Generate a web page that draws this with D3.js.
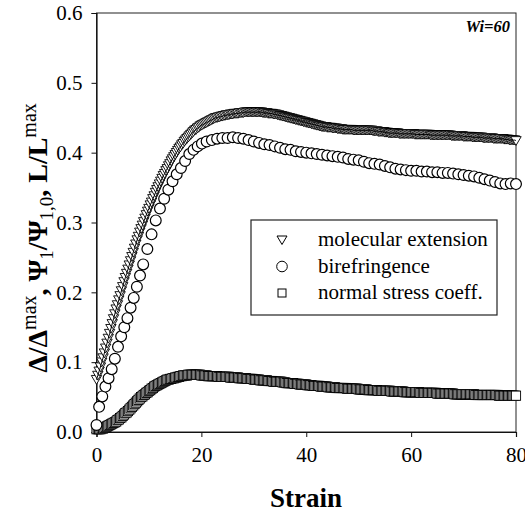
<!DOCTYPE html>
<html>
<head>
<meta charset="utf-8">
<script src="https://cdn.jsdelivr.net/npm/d3@7"></script>
<style>
  body { margin: 0; background: #fff; }
  svg { display: block; }
  svg text { font-family: "Liberation Serif", "Times New Roman", Times, "DejaVu Serif", serif; }
</style>
</head>
<body>
<svg id="chart" width="525" height="516"></svg>
<script>
// Strain sampling for the dense series (molecular extension, normal stress coeff.)
const strainGrid = d3.range(0, 80.125, 0.25);

// Molecular extension L/L^max, one value per strainGrid point (20 per row = 5 strain units)
const extensionValues = [
  0.075,0.081,0.087,0.093,0.100,0.106,0.113,0.120,0.127,0.134,0.141,0.148,0.155,0.162,0.169,0.176,0.182,0.189,0.195,0.202,
  0.208,0.215,0.221,0.227,0.233,0.239,0.245,0.251,0.257,0.263,0.269,0.275,0.280,0.286,0.291,0.296,0.301,0.306,0.311,0.316,
  0.320,0.325,0.329,0.334,0.338,0.343,0.347,0.351,0.355,0.359,0.363,0.367,0.370,0.374,0.377,0.381,0.384,0.388,0.391,0.394,
  0.397,0.400,0.403,0.406,0.408,0.411,0.413,0.416,0.418,0.420,0.422,0.424,0.426,0.428,0.430,0.432,0.433,0.435,0.436,0.438,
  0.439,0.440,0.441,0.442,0.443,0.444,0.445,0.446,0.447,0.448,0.449,0.450,0.450,0.451,0.451,0.452,0.452,0.453,0.453,0.454,
  0.454,0.454,0.455,0.455,0.455,0.456,0.456,0.456,0.456,0.457,0.457,0.457,0.457,0.458,0.458,0.458,0.458,0.458,0.458,0.458,
  0.458,0.458,0.458,0.458,0.458,0.458,0.458,0.457,0.457,0.457,0.457,0.456,0.456,0.456,0.456,0.455,0.455,0.455,0.454,0.454,
  0.453,0.453,0.452,0.452,0.451,0.451,0.450,0.450,0.449,0.449,0.448,0.448,0.447,0.447,0.446,0.446,0.445,0.445,0.444,0.444,
  0.443,0.443,0.442,0.442,0.441,0.441,0.440,0.440,0.439,0.439,0.438,0.438,0.437,0.437,0.437,0.437,0.436,0.436,0.436,0.436,
  0.435,0.435,0.435,0.435,0.434,0.434,0.434,0.434,0.433,0.433,0.433,0.433,0.433,0.433,0.433,0.433,0.432,0.432,0.432,0.432,
  0.432,0.432,0.432,0.432,0.432,0.432,0.432,0.432,0.432,0.432,0.432,0.431,0.431,0.431,0.431,0.430,0.430,0.430,0.430,0.430,
  0.429,0.429,0.429,0.428,0.428,0.428,0.428,0.428,0.428,0.428,0.428,0.427,0.427,0.427,0.427,0.427,0.427,0.427,0.427,0.427,
  0.427,0.427,0.427,0.426,0.426,0.426,0.426,0.426,0.426,0.426,0.426,0.426,0.426,0.426,0.426,0.425,0.425,0.425,0.425,0.425,
  0.425,0.425,0.425,0.425,0.425,0.425,0.425,0.425,0.425,0.425,0.425,0.424,0.424,0.424,0.424,0.424,0.424,0.424,0.424,0.424,
  0.423,0.423,0.423,0.423,0.423,0.423,0.423,0.422,0.422,0.422,0.422,0.422,0.422,0.422,0.422,0.421,0.421,0.421,0.421,0.421,
  0.421,0.421,0.421,0.420,0.420,0.420,0.420,0.420,0.420,0.420,0.420,0.419,0.419,0.419,0.419,0.418,0.418,0.418,0.418,0.418,
  0.417
];

// Normal stress coefficient Psi1/Psi1,0, one value per strainGrid point
const stressValues = [
  0.004,0.004,0.004,0.004,0.005,0.005,0.006,0.007,0.008,0.009,0.010,0.011,0.012,0.013,0.014,0.015,0.017,0.018,0.020,0.021,
  0.023,0.025,0.027,0.028,0.030,0.032,0.034,0.036,0.038,0.040,0.042,0.044,0.046,0.048,0.050,0.051,0.053,0.054,0.056,0.057,
  0.059,0.060,0.062,0.063,0.065,0.066,0.067,0.068,0.069,0.070,0.071,0.072,0.073,0.074,0.075,0.075,0.076,0.076,0.077,0.077,
  0.078,0.078,0.079,0.079,0.080,0.080,0.081,0.081,0.081,0.081,0.082,0.082,0.082,0.082,0.082,0.082,0.082,0.082,0.082,0.082,
  0.081,0.081,0.081,0.081,0.081,0.080,0.080,0.080,0.080,0.080,0.080,0.080,0.080,0.079,0.079,0.079,0.079,0.079,0.079,0.079,
  0.079,0.079,0.078,0.078,0.078,0.078,0.078,0.078,0.078,0.077,0.077,0.077,0.077,0.077,0.077,0.076,0.076,0.076,0.076,0.076,
  0.075,0.075,0.075,0.075,0.075,0.074,0.074,0.074,0.074,0.074,0.074,0.073,0.073,0.073,0.073,0.072,0.072,0.072,0.072,0.072,
  0.072,0.072,0.071,0.071,0.071,0.070,0.070,0.070,0.070,0.070,0.070,0.069,0.069,0.069,0.069,0.068,0.068,0.068,0.068,0.068,
  0.068,0.067,0.067,0.067,0.067,0.066,0.066,0.066,0.066,0.066,0.066,0.065,0.065,0.065,0.065,0.065,0.065,0.064,0.064,0.064,
  0.064,0.064,0.064,0.063,0.063,0.063,0.063,0.063,0.063,0.063,0.063,0.062,0.062,0.062,0.062,0.062,0.062,0.062,0.062,0.062,
  0.061,0.061,0.061,0.061,0.061,0.061,0.061,0.060,0.060,0.060,0.060,0.060,0.060,0.060,0.060,0.059,0.059,0.059,0.059,0.059,
  0.059,0.059,0.059,0.059,0.059,0.058,0.058,0.058,0.058,0.058,0.058,0.058,0.058,0.058,0.058,0.057,0.057,0.057,0.057,0.057,
  0.057,0.057,0.057,0.057,0.057,0.057,0.057,0.056,0.056,0.056,0.056,0.056,0.056,0.056,0.056,0.056,0.056,0.056,0.056,0.056,
  0.055,0.055,0.055,0.055,0.055,0.055,0.055,0.055,0.055,0.055,0.055,0.055,0.055,0.054,0.054,0.054,0.054,0.054,0.054,0.054,
  0.054,0.054,0.054,0.054,0.054,0.054,0.054,0.054,0.054,0.053,0.053,0.053,0.053,0.053,0.053,0.053,0.053,0.053,0.053,0.053,
  0.053,0.053,0.053,0.053,0.053,0.053,0.053,0.052,0.052,0.052,0.052,0.052,0.052,0.052,0.052,0.052,0.052,0.052,0.052,0.052,
  0.052
];

// Birefringence Delta/Delta^max
const birefStrain = [
  0,0.5,1.1,1.7,2.3,2.9,3.5,4.1,4.7,5.3,5.9,6.5,7.1,7.7,8.3,8.9,
  9.7,10.5,11.3,12.1,12.9,13.7,14.5,15.3,16.1,16.9,17.7,18.5,19.3,20.1,
  21,22,23,24,25,26,27,28,29,30,31,32,33,34,35,36,37,38,39,40,
  41,42,43,44,45,46,47,48,49,50,51,52,53,54,55,56,57,58,59,60,
  61,62,63,64,65,66,67,68,69,70,71,72,73,74,75,76,77,78,79,80
];
const birefValues = [
  0.010,0.036,0.051,0.065,0.077,0.090,0.105,0.122,0.137,0.150,0.163,0.178,0.192,0.208,0.224,0.240,
  0.262,0.283,0.303,0.320,0.334,0.347,0.359,0.369,0.378,0.388,0.398,0.404,0.409,0.413,
  0.416,0.418,0.420,0.421,0.421,0.422,0.421,0.420,0.418,0.416,0.414,0.412,0.411,0.409,0.407,0.405,0.404,0.402,0.401,0.400,
  0.399,0.398,0.397,0.396,0.395,0.394,0.393,0.391,0.390,0.389,0.387,0.385,0.384,0.383,0.381,0.379,0.377,0.376,0.375,0.374,
  0.374,0.373,0.373,0.372,0.372,0.371,0.371,0.370,0.369,0.368,0.367,0.366,0.364,0.362,0.360,0.358,0.356,0.355,0.356,0.355
];

const xTicks = [0, 20, 40, 60, 80];
const yTicks = [0.0, 0.1, 0.2, 0.3, 0.4, 0.5, 0.6];
const legendLabels = ["molecular extension", "birefringence", "normal stress coeff."];

const SERIF = "'Liberation Serif', 'Times New Roman', Times, 'DejaVu Serif', serif";
const INK = "#000";

const svg = d3.select("#chart");
const x = d3.scaleLinear().domain([0, 80]).range([96.5, 516]);
const y = d3.scaleLinear().domain([0, 0.6]).range([432, 13]);

// plot frame
svg.append("rect")
  .attr("x", x(0)).attr("y", y(0.6))
  .attr("width", x(80) - x(0)).attr("height", y(0) - y(0.6))
  .attr("fill", "none").attr("stroke", "#222").attr("stroke-width", 1);

// axes
const yAxis = svg.append("g").attr("transform", `translate(${x(0)},0)`)
  .call(d3.axisLeft(y).tickValues(yTicks).tickFormat(d3.format(".1f")).tickSize(5).tickPadding(9));
const xAxis = svg.append("g").attr("transform", `translate(0,${y(0)})`)
  .call(d3.axisBottom(x).tickValues(xTicks).tickFormat(d3.format("d")).tickSize(5).tickPadding(10));
[yAxis, xAxis].forEach(g => {
  g.attr("font-family", SERIF);
  g.select(".domain").attr("stroke", "#111").attr("stroke-width", 1.2);
  g.selectAll(".tick line").attr("stroke", "#111");
  g.selectAll(".tick text").attr("font-family", SERIF).attr("font-size", 21).attr("fill", "#000");
});

// marker shapes
const triPath = (cx, cy, s) => `M${cx - s},${cy - s * 0.8}L${cx + s},${cy - s * 0.8}L${cx},${cy + s * 0.9}Z`;

const plot = svg.append("g");

// normal stress coefficient: squares
const stressData = strainGrid.map((s, i) => [s, stressValues[i]]).filter(d => d[1] !== undefined);
plot.append("g").selectAll("rect").data(stressData).join("rect")
  .attr("x", d => x(d[0]) - 4.6).attr("y", d => y(d[1]) - 4.6)
  .attr("width", 9.2).attr("height", 9.2)
  .attr("fill", "#fff").attr("stroke", INK).attr("stroke-width", 0.9);

// birefringence: circles
const birefData = birefStrain.map((s, i) => [s, birefValues[i]]);
plot.append("g").selectAll("circle").data(birefData).join("circle")
  .attr("cx", d => x(d[0])).attr("cy", d => y(d[1])).attr("r", 5.4)
  .attr("fill", "#fff").attr("stroke", INK).attr("stroke-width", 1.2);

// molecular extension: down triangles with a thin line through them
const extData = strainGrid.map((s, i) => [s, extensionValues[i]]).filter(d => d[1] !== undefined);
plot.append("g").selectAll("path").data(extData).join("path")
  .attr("d", d => triPath(x(d[0]), y(d[1]), 5.2))
  .attr("fill", "#fff").attr("stroke", INK).attr("stroke-width", 0.9);
plot.append("path").datum(extData)
  .attr("d", d3.line().x(d => x(d[0])).y(d => y(d[1])).curve(d3.curveMonotoneX))
  .attr("fill", "none").attr("stroke", "#000").attr("stroke-width", 1);

// legend
const lg = svg.append("g");
lg.append("rect").attr("x", 251).attr("y", 220).attr("width", 246).attr("height", 95)
  .attr("fill", "#fff").attr("stroke", "#222").attr("stroke-width", 1.2);
const rowY = [240, 266.5, 293];
lg.append("path").attr("d", triPath(282, rowY[0], 5)).attr("fill", "#fff").attr("stroke", INK).attr("stroke-width", 1);
lg.append("circle").attr("cx", 282).attr("cy", rowY[1]).attr("r", 5.3).attr("fill", "#fff").attr("stroke", INK).attr("stroke-width", 1);
lg.append("rect").attr("x", 278).attr("y", rowY[2] - 4).attr("width", 8).attr("height", 8).attr("fill", "#fff").attr("stroke", INK).attr("stroke-width", 1);
lg.selectAll("text").data(legendLabels).join("text")
  .attr("x", 318).attr("y", (d, i) => rowY[i] + 6)
  .attr("font-family", SERIF).attr("font-size", 21).text(d => d);

// Wi annotation
svg.append("text").attr("x", 510).attr("y", 32).attr("text-anchor", "end")
  .attr("font-family", SERIF).attr("font-size", 16.5).attr("font-weight", "bold").attr("font-style", "italic").text("Wi=60");

// axis titles
svg.append("text").attr("x", 306).attr("y", 507).attr("text-anchor", "middle")
  .attr("font-family", SERIF).attr("font-size", 27).attr("font-weight", "bold").text("Strain");

const yt = svg.append("text").attr("transform", "translate(47,238) rotate(-90)")
  .attr("text-anchor", "middle").attr("font-family", SERIF).attr("font-size", 28).attr("font-weight", "bold");
const parts = [
  ["Δ/Δ", 0], ["max", 1], [", Ψ", 0], ["1", -1], ["/Ψ", 0], ["1,0", -1], [", L/L", 0], ["max", 1]
];
let prevShift = 0;
parts.forEach(([t, k]) => {
  const ts = yt.append("tspan").text(t);
  const shift = k === 1 ? -11 : k === -1 ? 6 : 0;
  ts.attr("dy", shift - prevShift);
  if (k !== 0) ts.attr("font-size", k === 1 ? 20 : 19).attr("font-weight", "normal");
  prevShift = shift;
});
</script>
</body>
</html>
